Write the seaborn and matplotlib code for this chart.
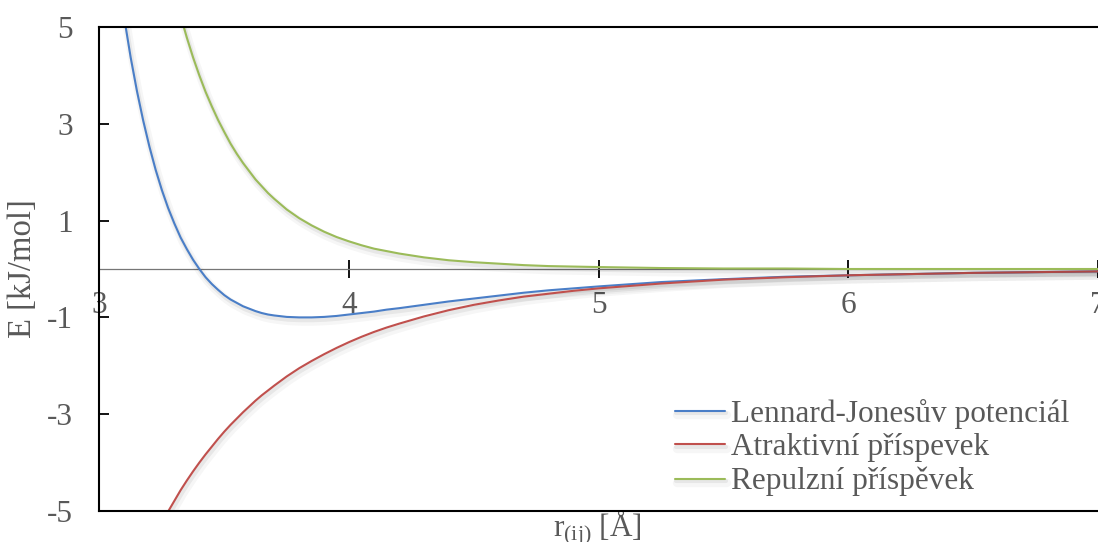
import numpy as np
import pandas as pd
import seaborn as sns
import matplotlib.pyplot as plt
import matplotlib.patheffects as pe

# distance r_(ij) in Angstrom and energies in kJ/mol
r_vals = [3.100, 3.125, 3.150, 3.175, 3.200, 3.225, 3.250, 3.275, 3.300, 3.325,
          3.350, 3.375, 3.400, 3.425, 3.450, 3.475, 3.500, 3.525, 3.550, 3.575,
          3.600, 3.625, 3.650, 3.675, 3.700, 3.750, 3.800, 3.850, 3.900, 3.950,
          4.000, 4.050, 4.100, 4.150, 4.200, 4.300, 4.400, 4.500, 4.600, 4.700,
          4.800, 4.900, 5.000, 5.250, 5.500, 5.750, 6.000, 6.500, 7.000]
lj_vals = [5.16, 4.37, 3.68, 3.07, 2.53, 2.05, 1.63, 1.26, 0.94, 0.65,
           0.41, 0.19, 0.00, -0.17, -0.31, -0.43, -0.54, -0.63, -0.70, -0.77,
           -0.82, -0.87, -0.91, -0.94, -0.96, -0.99, -1.00, -1.00, -0.99, -0.97,
           -0.94, -0.91, -0.88, -0.84, -0.81, -0.74, -0.67, -0.61, -0.55, -0.49,
           -0.44, -0.40, -0.36, -0.27, -0.21, -0.16, -0.13, -0.08, -0.05]
attr_vals = [-6.96, -6.64, -6.33, -6.03, -5.76, -5.49, -5.24, -5.01, -4.79, -4.57,
             -4.37, -4.18, -4.00, -3.83, -3.67, -3.51, -3.36, -3.22, -3.09, -2.96,
             -2.84, -2.72, -2.61, -2.51, -2.41, -2.22, -2.05, -1.90, -1.76, -1.63,
             -1.51, -1.40, -1.30, -1.21, -1.13, -0.98, -0.85, -0.74, -0.65, -0.57,
             -0.51, -0.45, -0.40, -0.30, -0.22, -0.17, -0.13, -0.08, -0.05]
rep_vals = [12.12, 11.01, 10.00, 9.10, 8.28, 7.54, 6.87, 6.27, 5.72, 5.23,
            4.78, 4.37, 4.00, 3.66, 3.36, 3.08, 2.83, 2.59, 2.38, 2.19,
            2.02, 1.85, 1.71, 1.57, 1.45, 1.23, 1.05, 0.90, 0.77, 0.66,
            0.57, 0.49, 0.42, 0.37, 0.32, 0.24, 0.18, 0.14, 0.11, 0.08,
            0.06, 0.05, 0.04, 0.02, 0.01, 0.01, 0.00, 0.00, 0.00]

series_names = ["Lennard-Jonesův potenciál", "Atraktivní příspevek", "Repulzní příspěvek"]
series_colors = ["#4A7EC7", "#C0504D", "#9BBB59"]
x_ticks = [3, 4, 5, 6, 7]
y_ticks = [-5, -3, -1, 1, 3, 5]

df = pd.DataFrame({"r": r_vals, "lj": lj_vals, "attr": attr_vals, "rep": rep_vals})

sns.set_style("white")
plt.rcParams['font.family'] = ['Liberation Serif', 'DejaVu Serif']
plt.rcParams['mathtext.fontset'] = 'custom'
plt.rcParams['mathtext.rm'] = 'Liberation Serif'
plt.rcParams['mathtext.it'] = 'Liberation Serif:italic'

txt_color = "#595959"
fs = 22.5

fig = plt.figure(figsize=(10.98, 5.42), dpi=100)
ax = fig.add_axes([0.0906, 0.0572, 0.9094, 0.893])

# soft drop shadow like the Excel original
shadow = [pe.SimpleLineShadow(offset=(1.5, -3), shadow_color="k", alpha=0.035, linewidth=6),
          pe.SimpleLineShadow(offset=(1, -2), shadow_color="k", alpha=0.06, linewidth=3),
          pe.Normal()]

for col, name, color in zip(["lj", "attr", "rep"], series_names, series_colors):
    sns.lineplot(x="r", y=col, data=df, color=color, linewidth=1.5, label=name, ax=ax)

for line in ax.lines:
    line.set_path_effects(shadow)

ax.set_xlim(3, 7)
ax.set_ylim(-5, 5)

# box spines
for side in ["left", "top", "bottom"]:
    ax.spines[side].set_color("black")
    ax.spines[side].set_linewidth(1.5)
ax.spines["right"].set_visible(False)

# horizontal axis sits on E = 0
ax.set_xticks([])
sec = ax.secondary_xaxis(0.5)
sec.set_xticks(x_ticks)
for side in ["top", "bottom"]:
    sec.spines[side].set_color("#767676")
    sec.spines[side].set_linewidth(0.9)
sec.tick_params(axis="x", direction="inout", length=13, width=1.3, color="black",
                labelsize=fs, labelcolor=txt_color, pad=9,
                top=True, bottom=False, labeltop=False, labelbottom=True)

ax.set_yticks(y_ticks)
ax.set_yticklabels([str(v) for v in y_ticks])
ax.tick_params(axis="y", direction="in", length=7, width=1.3, color="black",
               labelsize=fs, labelcolor=txt_color, pad=19, left=True)

ax.set_xlabel(r"r$_{\mathrm{(ij)}}$ [Å]", fontsize=fs, color=txt_color)
ax.xaxis.set_label_coords(0.499, 0.007)
ax.set_ylabel("E [kJ/mol]", fontsize=23.5, color=txt_color)
ax.yaxis.set_label_coords(-0.0612, 0.5)

leg = ax.legend(loc="lower right", bbox_to_anchor=(0.9715, 0.03), frameon=False,
                fontsize=fs, handlelength=1.6, handletextpad=0.2, labelspacing=0.15,
                borderpad=0, borderaxespad=0)
for t in leg.get_texts():
    t.set_color(txt_color)

fig.savefig("out.png", dpi=100)
